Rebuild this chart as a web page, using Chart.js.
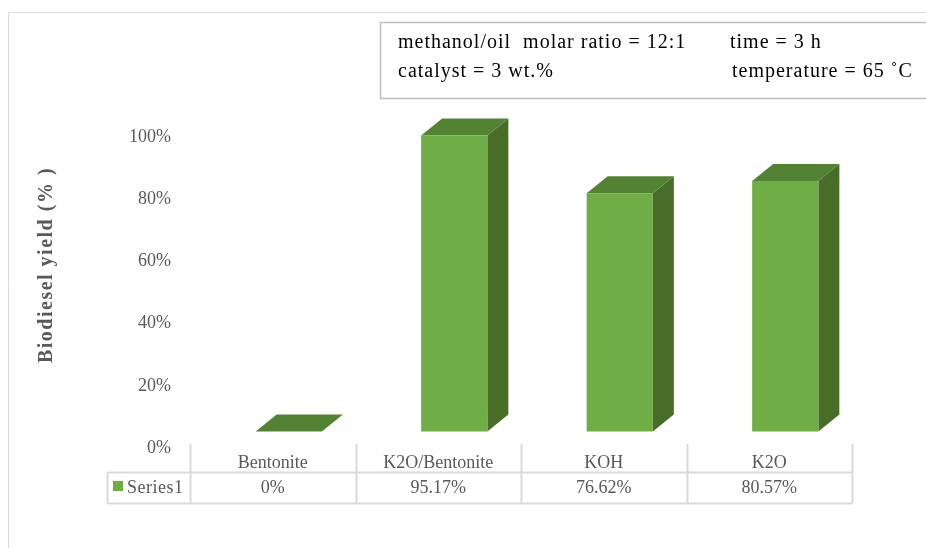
<!DOCTYPE html>
<html>
<head>
<meta charset="utf-8">
<script src="https://cdn.jsdelivr.net/npm/chart.js@4/dist/chart.umd.min.js"></script>
<style>
  html,body{margin:0;padding:0;background:#fff;}
  #wrap{width:926px;height:548px;}
</style>
</head>
<body>
<div id="wrap"><canvas id="c" width="926" height="548"></canvas></div>
<script>
(function () {
  'use strict';

  /* chart data */
  var categories = ['Bentonite', 'K2O/Bentonite', 'KOH', 'K2O'];
  var yields = [0, 95.17, 76.62, 80.57];
  var seriesName = 'Series1';
  var yTitle = 'Biodiesel yield (% )';
  var noteLeft = ['methanol/oil  molar ratio = 12:1', 'catalyst = 3 wt.%'];
  var noteRight = ['time = 3 h', 'temperature = 65 \u02DAC'];

  var SERIF = '"Liberation Serif", "Times New Roman", serif';
  var GREY = '#595959', LINE = '#D9D9D9';
  var FRONT = '#70AD47', TOP = '#548235', SIDE = '#476D28';

  function fmt(v){ return v === 0 ? '0%' : v.toFixed(2) + '%'; }

  /* frame + note box */
  var framePlugin = {
    id: 'frame',
    beforeDraw: function (chart) {
      var ctx = chart.ctx;
      ctx.save();
      ctx.fillStyle = '#fff'; ctx.fillRect(0, 0, chart.width, chart.height);
      ctx.strokeStyle = LINE; ctx.lineWidth = 1;
      ctx.beginPath(); ctx.moveTo(8.5, 560); ctx.lineTo(8.5, 12.5); ctx.lineTo(940, 12.5); ctx.stroke();
      ctx.strokeStyle = '#BFBFBF'; ctx.lineWidth = 1.5;
      ctx.strokeRect(380.5, 22.5, 560, 76);
      ctx.fillStyle = '#000'; ctx.font = '20px ' + SERIF;
      ctx.letterSpacing = '1px';
      ctx.textBaseline = 'alphabetic'; ctx.textAlign = 'left';
      ctx.fillText(noteLeft[0], 398, 48);
      ctx.fillText(noteLeft[1], 398, 77);
      ctx.fillText(noteRight[0], 730, 48);
      ctx.fillText(noteRight[1], 732, 77);
      ctx.restore();
    }
  };

  /* 3D boxes from the bar elements */
  var boxPlugin = {
    id: 'box3d',
    afterDatasetsDraw: function (chart) {
      var ctx = chart.ctx, meta = chart.getDatasetMeta(0);
      var shift = 16, lift = 16.5, dx = 21, dy = 17;
      ctx.save();
      meta.data.forEach(function (bar) {
        var l = bar.x - bar.width / 2 + shift, r = l + bar.width;
        var t = bar.y - lift, b = bar.base - lift;
        // side
        ctx.fillStyle = SIDE;
        ctx.beginPath();
        ctx.moveTo(r, t); ctx.lineTo(r + dx, t - dy); ctx.lineTo(r + dx, b - dy); ctx.lineTo(r, b);
        ctx.closePath(); ctx.fill();
        // top
        ctx.fillStyle = TOP;
        ctx.beginPath();
        ctx.moveTo(l, t); ctx.lineTo(l + dx, t - dy); ctx.lineTo(r + dx, t - dy); ctx.lineTo(r, t);
        ctx.closePath(); ctx.fill();
        // front
        if (b - t > 0) { ctx.fillStyle = FRONT; ctx.fillRect(l, t, r - l, b - t); }
      });
      ctx.restore();
    }
  };

  /* data table + y title */
  var tablePlugin = {
    id: 'datatable',
    afterDraw: function (chart) {
      var ctx = chart.ctx, xs = chart.scales.x, area = chart.chartArea;
      var top = 444, mid = 472.5, bot = 503.5, left = 107.5;
      var step = (area.right - area.left) / categories.length;
      ctx.save();
      ctx.strokeStyle = LINE; ctx.lineWidth = 2;
      ctx.beginPath();
      ctx.moveTo(left, mid); ctx.lineTo(area.right, mid);
      ctx.moveTo(left, bot); ctx.lineTo(area.right, bot);
      ctx.moveTo(left, mid); ctx.lineTo(left, bot);
      for (var i = 0; i <= categories.length; i++) {
        var x = Math.round(area.left + i * step) + 0.5;
        ctx.moveTo(x, top); ctx.lineTo(x, bot);
      }
      ctx.stroke();

      ctx.fillStyle = FRONT; ctx.fillRect(113, 481, 10, 10);
      ctx.fillStyle = GREY; ctx.font = '18px ' + SERIF;
      ctx.textBaseline = 'middle';
      ctx.textAlign = 'left'; ctx.letterSpacing = '0.5px';
      ctx.fillText(seriesName, 127, 488);
      ctx.letterSpacing = '0px'; ctx.textAlign = 'center';
      yields.forEach(function (v, i) {
        ctx.fillText(fmt(v), xs.getPixelForValue(i), 488);
      });

      ctx.translate(47, 265); ctx.rotate(-Math.PI / 2);
      ctx.font = 'bold 20px ' + SERIF; ctx.letterSpacing = '1.5px';
      ctx.fillText(yTitle, 0, 0);
      ctx.restore();
    }
  };

  new Chart(document.getElementById('c'), {
    type: 'bar',
    data: {
      labels: categories,
      datasets: [{ label: seriesName, data: yields, backgroundColor: 'rgba(0,0,0,0)', borderWidth: 0,
        categoryPercentage: 1, barPercentage: 0.4 }]
    },
    options: {
      responsive: false, animation: false, devicePixelRatio: 1,
      layout: { padding: { top: 137, right: 74, bottom: 0, left: 0 } },
      plugins: { legend: { display: false }, tooltip: { enabled: false } },
      scales: {
        x: {
          grid: { display: false, drawTicks: false }, border: { display: false },
          ticks: { color: GREY, font: { family: SERIF, size: 18 }, padding: 4, maxRotation: 0 },
          afterFit: function (s) { s.height = 100; }
        },
        y: {
          min: 0, max: 100,
          grid: { display: false, drawTicks: false }, border: { display: false },
          ticks: { stepSize: 20, color: GREY, font: { family: SERIF, size: 18 }, padding: 19,
            callback: function (v) { return v + '%'; } },
          afterFit: function (s) { s.width = 190; }
        }
      }
    },
    plugins: [framePlugin, boxPlugin, tablePlugin]
  });
})();
</script>
</body>
</html>
